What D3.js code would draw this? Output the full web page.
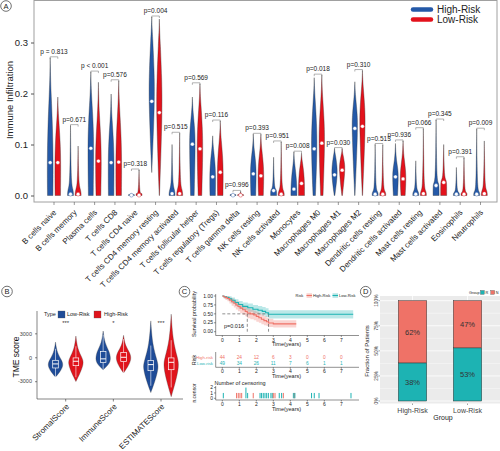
<!DOCTYPE html>
<html><head><meta charset="utf-8">
<script src="https://cdn.jsdelivr.net/npm/d3@7"></script>
<style>body{margin:0;background:#fff} svg{display:block} text{font-family:"Liberation Sans",Arial,sans-serif}</style>
</head><body><svg id="c" width="500" height="451"></svg>
<script>
// ---------- Panel A data ----------
const cellTypes = ["B cells naive","B cells memory","Plasma cells","T cells CD8","T cells CD4 naive","T cells CD4 memory resting","T cells CD4 memory activated","T cells follicular helper","T cells regulatory (Tregs)","T cells gamma delta","NK cells resting","NK cells activated","Monocytes","Macrophages M0","Macrophages M1","Macrophages M2","Dendritic cells resting","Dendritic cells activated","Mast cells resting","Mast cells activated","Eosinophils","Neutrophils"];
const pValues = ["p = 0.813","p=0.671","p < 0.001","p=0.576","p=0.318","p=0.004","p=0.515","p=0.569","p=0.116","p=0.996","p=0.393","p=0.951","p=0.008","p=0.018","p=0.030","p=0.310","p=0.513","p=0.936","p=0.066","p=0.345","p=0.391","p=0.009"];
const highMax = [0.270,0.137,0.242,0.199,0.004,0.350,0.100,0.193,0.117,0.003,0.120,0.075,0.085,0.231,0.092,0.223,0.100,0.102,0.068,0.148,0.055,0.130];
const lowMax  = [0.193,0.097,0.222,0.225,0.050,0.346,0.122,0.219,0.146,0.008,0.120,0.105,0.083,0.236,0.092,0.245,0.099,0.107,0.131,0.100,0.074,0.107];
const highMedian = [0.064,0.002,0.092,0.064,0,0.184,0.003,0.100,0.036,0,0.042,0.009,0.012,0.091,0.040,0.131,0.002,0.036,0.002,0.019,0.002,0.002];
const lowMedian  = [0.064,0.002,0.067,0.065,0,0.162,0.003,0.091,0.045,0,0.038,0.002,0.023,0.102,0.049,0.135,0.002,0.032,0.003,0.025,0.002,0.003];
const highMin = [0,0,0,0,0,0.045,0,0,0,0,0,0,0,0,0,0,0,0,0,0,0,0];
const lowMin  = [0,0,0,0,0,0,0,0,0,0,0,0,0,0,0,0,0,0,0,0,0,0];
const highBody = [0.20,0.022,0.19,0.15,0.002,0.31,0.02,0.16,0.09,0.002,0.09,0.015,0.06,0.19,0.08,0.19,0.012,0.07,0.012,0.03,0.008,0.012];
const lowBody  = [0.15,0.020,0.16,0.17,0.004,0.30,0.02,0.18,0.11,0.002,0.09,0.015,0.065,0.19,0.08,0.21,0.012,0.075,0.015,0.035,0.008,0.016];
const highBase = [0.9,1,0.8,0.9,1,0,1,0.6,0.9,1,0.8,1,1,0.4,0.1,0.05,1,0.7,1,1,1,1];
const lowBase  = [0.9,1,0.8,0.9,1,0.05,1,0.6,0.9,1,0.8,1,1,0.4,0.1,0.05,1,0.7,1,1,1,1];
const yTicksA = [0, 0.1, 0.2, 0.3];

// ---------- Panel B data ----------
const tmeScores = ["StromalScore","ImmuneScore","ESTIMATEScore"];
// [min, q1, median, q3, max]
const tmeLow  = [[-2480,-1340,-835,-380,1900],[-1560,-670,-200,720,3290],[-4430,-1680,-920,-420,4560]];
const tmeHigh = [[-3040,-1050,-500,-80,2660],[-1970,-540,0,590,2750],[-4940,-1560,-630,-80,5400]];
const tmeStars = ["***","*","***"];
const yTicksB = [-3000, 0, 3000];

// ---------- Panel C data ----------
const kmHighTime = [0,0.08,0.18,0.3,0.42,0.55,0.68,0.8,0.92,1.05,1.2,1.35,1.47,1.65,1.85,2.0,2.15,2.3,2.45,2.6,2.72,3.0,4.35];
const kmHighSurv = [1,0.977,0.955,0.93,0.886,0.84,0.795,0.75,0.705,0.66,0.615,0.57,0.525,0.5,0.47,0.43,0.39,0.35,0.31,0.28,0.245,0.22,0.22];
const kmHighUpper = [1,1,1,0.99,0.96,0.93,0.89,0.85,0.81,0.77,0.73,0.69,0.65,0.62,0.59,0.56,0.52,0.48,0.44,0.4,0.36,0.32,0.32];
const kmHighLower = [1,0.93,0.89,0.85,0.79,0.73,0.68,0.62,0.57,0.52,0.47,0.43,0.38,0.35,0.32,0.28,0.25,0.21,0.18,0.16,0.13,0.12,0.12];
const kmLowTime = [0,0.1,0.25,0.4,0.55,0.75,0.95,1.2,1.5,1.8,2.1,2.35,2.55,2.72,7.7];
const kmLowSurv = [1,0.98,0.96,0.92,0.88,0.82,0.76,0.71,0.67,0.63,0.6,0.57,0.53,0.49,0.49];
const kmLowUpper = [1,1,1,0.99,0.96,0.91,0.86,0.82,0.79,0.75,0.72,0.69,0.66,0.6,0.6];
const kmLowLower = [1,0.94,0.91,0.85,0.8,0.73,0.66,0.61,0.56,0.52,0.48,0.45,0.41,0.37,0.37];
const medianTimes = [1.47, 2.72];
const riskTimes = [0,1,2,3,4,5,6,7];
const riskHigh = [44,24,12,6,3,0,0,0];
const riskLow  = [49,34,26,11,7,6,1,1];
const censorTime  = [0.06,0.84,0.94,1.04,1.14,1.39,1.49,1.82,2.22,2.31,2.41,2.51,2.61,2.71,2.86,2.94,3.0,3.1,3.35,3.49,3.59,4.18,4.24,4.27,5.25,5.41,5.69,7.57];
const censorCount = [1,1,1,1,1,2,1,1,1,1,1,1,1,1,1,1,1,1,1,1,1,1,1,1,1,1,1,1];
const censorGroup = ["L","H","H","H","H","L","L","H","L","L","L","L","L","L","L","L","H","H","L","L","H","L","H","L","L","L","L","L"];

// ---------- Panel D data ----------
const riskGroups = ["High-Risk","Low-Risk"];
const fracR = [38, 53];
const fracN = [62, 47];

// ---------- drawing ----------
const svg = d3.select("#c");
const BLUE_A = "#2459a8", RED_A = "#e3121c";
const BLUE_B = "#1f4c98", RED_B = "#e0141c";
const TEAL = "#1db3b3", SALMON = "#ef7267";

function circleLabel(x, y, t) {
  svg.append("circle").attr("cx", x).attr("cy", y).attr("r", 5.3)
    .attr("fill", "#fff").attr("stroke", "#333").attr("stroke-width", 0.7);
  svg.append("text").attr("x", x).attr("y", y + 2.6).attr("text-anchor", "middle")
    .attr("font-size", 7.5).attr("fill", "#222").text(t);
}

// ===== Panel A =====
const aY = d3.scaleLinear().domain([0, 0.3]).range([195.5, 42.5]);
const aX = d3.scalePoint().domain(cellTypes).range([54, 480.5]);
const gA = svg.append("g");
gA.append("rect").attr("x", 34).attr("y", 0.5).attr("width", 463).attr("height", 201.5)
  .attr("fill", "none").attr("stroke", "#a0a0a0").attr("stroke-width", 1);
const axA = gA.append("g").attr("transform", "translate(34,0)")
  .call(d3.axisLeft(aY).tickValues(yTicksA).tickFormat(d3.format(".1f")).tickSize(3));
axA.select(".domain").remove();
axA.selectAll("line").attr("stroke", "#555");
axA.selectAll("text").attr("font-size", 9.5).attr("fill", "#222").attr("font-family", "Liberation Sans, Arial, sans-serif");
gA.append("text").attr("transform", "translate(13,100) rotate(-90)").attr("text-anchor", "middle")
  .attr("font-size", 9.5).attr("fill", "#222").text("Immune Infiltration");

const WA = 3.0, OFF_A = 3.8;
function profA(min, med, body, max, base) {
  const mode = Math.min(Math.max(med, min + 0.004), body);
  return [[min, base], [mode, 1], [mode + (body - mode) * 0.5, 0.8], [body, 0.3], [body + (max - body) * 0.5, 0.1], [max, 0]];
}
function violinPath(pts, cx, W, yS) {
  return d3.area().curve(d3.curveBasis)
    .y(d => yS(d[0])).x0(d => cx - d[1] * W).x1(d => cx + d[1] * W)(pts);
}
cellTypes.forEach((c, i) => {
  const cx = aX(c);
  const groups = [
    {cx: cx - OFF_A, col: BLUE_A, p: profA(highMin[i], highMedian[i], highBody[i], highMax[i], highBase[i]), med: highMedian[i]},
    {cx: cx + OFF_A, col: RED_A, p: profA(lowMin[i], lowMedian[i], lowBody[i], lowMax[i], lowBase[i]), med: lowMedian[i]}
  ];
  groups.forEach(g => {
    gA.append("path").attr("d", violinPath(g.p, g.cx, WA, aY))
      .attr("fill", g.col).attr("stroke", "#2a2a2a").attr("stroke-width", 0.35);
  });
  groups.forEach(g => {
    gA.append("circle").attr("cx", g.cx).attr("cy", aY(g.med) - 0.3).attr("r", 1.9)
      .attr("fill", "#fff").attr("stroke", g.col).attr("stroke-width", 0.4);
  });
  const by = aY(Math.max(highMax[i], lowMax[i])) - 1;
  gA.append("path").attr("d", `M${cx - OFF_A},${by + 2}V${by}H${cx + OFF_A}V${by + 2}`)
    .attr("fill", "none").attr("stroke", "#666").attr("stroke-width", 0.5);
  gA.append("text").attr("x", cx).attr("y", by - 3).attr("text-anchor", "middle")
    .attr("font-size", 6.5).attr("fill", "#222").text(pValues[i]);
  gA.append("line").attr("x1", cx).attr("x2", cx).attr("y1", 202).attr("y2", 205)
    .attr("stroke", "#555").attr("stroke-width", 0.6);
  gA.append("text").attr("transform", `translate(${cx + 3},213) rotate(-45)`)
    .attr("text-anchor", "end").attr("font-size", 8).attr("fill", "#222").text(c);
});
// legend A
[["High-Risk", BLUE_A, 9.5], ["Low-Risk", RED_A, 19.5]].forEach(([t, col, y]) => {
  gA.append("line").attr("x1", 413).attr("x2", 431).attr("y1", y).attr("y2", y)
    .attr("stroke", col).attr("stroke-width", 4.5).attr("stroke-linecap", "round");
  gA.append("text").attr("x", 437).attr("y", y + 3.5).attr("font-size", 10).attr("fill", "#222").text(t);
});
circleLabel(6, 6, "A");

// ===== Panel B =====
const bY = d3.scaleLinear().domain([-5230, 5800]).range([399, 311]);
const bX = d3.scalePoint().domain(tmeScores).range([65.7, 161]);
const gB = svg.append("g");
gB.append("line").attr("x1", 37).attr("x2", 37).attr("y1", 311).attr("y2", 399).attr("stroke", "#333").attr("stroke-width", 0.6);
gB.append("line").attr("x1", 37).attr("x2", 183).attr("y1", 399).attr("y2", 399).attr("stroke", "#333").attr("stroke-width", 0.6);
const axB = gB.append("g").attr("transform", "translate(37,0)")
  .call(d3.axisLeft(bY).tickValues(yTicksB).tickFormat(d => String(d)).tickSize(2));
axB.select(".domain").remove();
axB.selectAll("line").attr("stroke", "#333").attr("stroke-width", 0.6);
axB.selectAll("text").attr("font-size", 5.5).attr("fill", "#444").attr("font-family", "Liberation Sans, Arial, sans-serif");
gB.append("text").attr("transform", "translate(19,357) rotate(-90)").attr("text-anchor", "middle")
  .attr("font-size", 8.5).attr("fill", "#111").text("TME score");
const WB = 8.0, OFF_B = 10.2;
function profB(s) {
  const [mn, q1, md, q3, mx] = s;
  return [[mn, 0], [q1 - (q1 - mn) * 0.5, 0.5], [(q1 + md) / 2, 1], [q3, 0.8], [q3 + (mx - q3) * 0.4, 0.2], [mx, 0]];
}
tmeScores.forEach((c, i) => {
  const cx = bX(c);
  [[cx - OFF_B, BLUE_B, tmeLow[i]], [cx + OFF_B, RED_B, tmeHigh[i]]].forEach(([x, col, s]) => {
    gB.append("path").attr("d", violinPath(profB(s), x, WB, bY))
      .attr("fill", col).attr("stroke", "#333").attr("stroke-width", 0.3);
    const [mn, q1, md, q3, mx] = s;
    const iqr = q3 - q1;
    const wTop = Math.min(mx, q3 + 1.5 * iqr), wBot = Math.max(mn, q1 - 1.5 * iqr);
    gB.append("line").attr("x1", x).attr("x2", x).attr("y1", bY(q3)).attr("y2", bY(wTop)).attr("stroke", "#fff").attr("stroke-width", 0.6);
    gB.append("line").attr("x1", x).attr("x2", x).attr("y1", bY(q1)).attr("y2", bY(wBot)).attr("stroke", "#fff").attr("stroke-width", 0.6);
    gB.append("rect").attr("x", x - 2.8).attr("width", 5.6).attr("y", bY(q3)).attr("height", bY(q1) - bY(q3))
      .attr("fill", col).attr("stroke", "#fff").attr("stroke-width", 0.7);
    gB.append("line").attr("x1", x - 2.8).attr("x2", x + 2.8).attr("y1", bY(md)).attr("y2", bY(md)).attr("stroke", "#fff").attr("stroke-width", 1);
  });
  gB.append("text").attr("x", cx).attr("y", 325).attr("text-anchor", "middle").attr("font-size", 6).attr("fill", "#333").text(tmeStars[i]);
  gB.append("line").attr("x1", cx).attr("x2", cx).attr("y1", 399).attr("y2", 401.5).attr("stroke", "#333").attr("stroke-width", 0.6);
  gB.append("text").attr("transform", `translate(${cx + 4},407) rotate(-45)`)
    .attr("text-anchor", "end").attr("font-size", 8).attr("fill", "#222").text(c);
});
gB.append("text").attr("x", 44).attr("y", 316.3).attr("font-size", 5.5).attr("fill", "#222").text("Type");
[[58, BLUE_B, "Low-Risk", 67], [94, RED_B, "High-Risk", 104]].forEach(([x, col, t, tx]) => {
  gB.append("rect").attr("x", x).attr("y", 311).attr("width", 7).attr("height", 7).attr("fill", col).attr("stroke", "#555").attr("stroke-width", 0.3);
  gB.append("text").attr("x", tx).attr("y", 316.3).attr("font-size", 5.5).attr("fill", "#222").text(t);
});
circleLabel(7, 291.5, "B");

// ===== Panel C =====
const gC = svg.append("g");
const cX = d3.scaleLinear().domain([0, 7]).range([222.3, 341.3]);
const cY = d3.scaleLinear().domain([0, 1]).range([331.7, 296]);
const tickFont = 5;
gC.append("line").attr("x1", 215.7).attr("x2", 215.7).attr("y1", 294).attr("y2", 335.5).attr("stroke", "#222").attr("stroke-width", 0.5);
gC.append("line").attr("x1", 215.7).attr("x2", 359).attr("y1", 335.5).attr("y2", 335.5).attr("stroke", "#222").attr("stroke-width", 0.5);
[0, 0.25, 0.5, 0.75, 1].forEach(v => {
  gC.append("line").attr("x1", 214).attr("x2", 215.7).attr("y1", cY(v)).attr("y2", cY(v)).attr("stroke", "#222").attr("stroke-width", 0.5);
  gC.append("text").attr("x", 213).attr("y", cY(v) + 1.7).attr("text-anchor", "end").attr("font-size", tickFont).attr("fill", "#222").text(v.toFixed(2));
});
function xAxisC(y0) {
  riskTimes.forEach(t => {
    gC.append("line").attr("x1", cX(t)).attr("x2", cX(t)).attr("y1", y0).attr("y2", y0 + 1.5).attr("stroke", "#222").attr("stroke-width", 0.5);
    gC.append("text").attr("x", cX(t)).attr("y", y0 + 6).attr("text-anchor", "middle").attr("font-size", tickFont).attr("fill", "#222").text(t);
  });
  gC.append("text").attr("x", 286.5).attr("y", y0 + 10.5).attr("text-anchor", "middle").attr("font-size", 5.5).attr("fill", "#222").text("Time(years)");
}
xAxisC(335.5);
gC.append("text").attr("transform", "translate(196,314) rotate(-90)").attr("text-anchor", "middle")
  .attr("font-size", 5.5).attr("fill", "#222").text("Survival probability");
function band(times, lo, hi, col) {
  const d = times.map((t, i) => ({t, lo: lo[i], hi: hi[i]}));
  gC.append("path").attr("d", d3.area().curve(d3.curveStepAfter).x(e => cX(e.t)).y0(e => cY(e.lo)).y1(e => cY(e.hi))(d))
    .attr("fill", col).attr("opacity", 0.3);
}
function curve(times, s, col) {
  const d = times.map((t, i) => ({t, s: s[i]}));
  gC.append("path").attr("d", d3.line().curve(d3.curveStepAfter).x(e => cX(e.t)).y(e => cY(e.s))(d))
    .attr("fill", "none").attr("stroke", col).attr("stroke-width", 1.1);
}
band(kmLowTime, kmLowLower, kmLowUpper, TEAL);
band(kmHighTime, kmHighLower, kmHighUpper, SALMON);
gC.append("line").attr("x1", cX(0)).attr("x2", cX(medianTimes[1])).attr("y1", cY(0.5)).attr("y2", cY(0.5))
  .attr("stroke", "#444").attr("stroke-width", 0.6).attr("stroke-dasharray", "3,2");
medianTimes.forEach(t => gC.append("line").attr("x1", cX(t)).attr("x2", cX(t)).attr("y1", cY(0.5)).attr("y2", cY(0))
  .attr("stroke", "#444").attr("stroke-width", 0.6).attr("stroke-dasharray", "3,2"));
curve(kmLowTime, kmLowSurv, TEAL);
curve(kmHighTime, kmHighSurv, SALMON);
gC.append("text").attr("x", 224).attr("y", 327.5).attr("font-size", 5.5).attr("fill", "#222").text("p=0.016");
gC.append("text").attr("x", 295.5).attr("y", 296.8).attr("font-size", 4).attr("fill", "#222").text("Risk");
[[306.5, SALMON, "High-Risk", 313], [332.5, TEAL, "Low-Risk", 339]].forEach(([x, col, t, tx]) => {
  gC.append("rect").attr("x", x).attr("y", 293.3).attr("width", 5.5).attr("height", 4.5).attr("fill", col).attr("opacity", 0.35);
  gC.append("line").attr("x1", x).attr("x2", x + 5.5).attr("y1", 295.5).attr("y2", 295.5).attr("stroke", col).attr("stroke-width", 1);
  gC.append("text").attr("x", tx).attr("y", 296.8).attr("font-size", 4).attr("fill", "#222").text(t);
});
// risk table
gC.append("line").attr("x1", 215.7).attr("x2", 215.7).attr("y1", 352).attr("y2", 367.3).attr("stroke", "#222").attr("stroke-width", 0.5);
gC.append("line").attr("x1", 215.7).attr("x2", 359).attr("y1", 367.3).attr("y2", 367.3).attr("stroke", "#222").attr("stroke-width", 0.5);
[["High-risk", SALMON, 357.7, riskHigh], ["Low-risk", TEAL, 363.3, riskLow]].forEach(([lab, col, y, vals]) => {
  gC.append("text").attr("x", 213).attr("y", y + 1.6).attr("text-anchor", "end").attr("font-size", 4.3).attr("fill", col).text(lab);
  vals.forEach((v, i) => gC.append("text").attr("x", cX(riskTimes[i])).attr("y", y + 1.7).attr("text-anchor", "middle")
    .attr("font-size", 4.8).attr("fill", col).text(v));
});
gC.append("text").attr("transform", "translate(196,360) rotate(-90)").attr("text-anchor", "middle")
  .attr("font-size", 5.5).attr("fill", "#222").text("Risk");
xAxisC(367.3);
// censoring
const nY = d3.scaleLinear().domain([0, 2]).range([398.3, 387.6]);
gC.append("text").attr("x", 214.5).attr("y", 385.3).attr("font-size", 5.5).attr("fill", "#222").text("Number of censoring");
gC.append("line").attr("x1", 215.7).attr("x2", 215.7).attr("y1", 386).attr("y2", 400).attr("stroke", "#222").attr("stroke-width", 0.5);
gC.append("line").attr("x1", 215.7).attr("x2", 359).attr("y1", 400).attr("y2", 400).attr("stroke", "#222").attr("stroke-width", 0.5);
[0, 1, 2].forEach(v => {
  gC.append("line").attr("x1", 214).attr("x2", 215.7).attr("y1", nY(v)).attr("y2", nY(v)).attr("stroke", "#222").attr("stroke-width", 0.5);
  gC.append("text").attr("x", 213).attr("y", nY(v) + 1.7).attr("text-anchor", "end").attr("font-size", tickFont).attr("fill", "#222").text(v);
});
censorTime.forEach((t, i) => {
  gC.append("line").attr("x1", cX(t)).attr("x2", cX(t)).attr("y1", nY(0)).attr("y2", nY(censorCount[i]))
    .attr("stroke", censorGroup[i] === "H" ? SALMON : TEAL).attr("stroke-width", 1);
});
gC.append("text").attr("transform", "translate(196,393) rotate(-90)").attr("text-anchor", "middle")
  .attr("font-size", 5).attr("fill", "#222").text("n.censor");
xAxisC(400);
circleLabel(184.5, 291.7, "C");

// ===== Panel D =====
const gD = svg.append("g");
const dY = d3.scaleLinear().domain([0, 100]).range([401, 300.7]);
const dXp = d3.scalePoint().domain(riskGroups).range([412.5, 467.5]);
gD.append("rect").attr("x", 380).attr("y", 296).attr("width", 120).attr("height", 107.5).attr("fill", "#ebebeb");
[12.5, 37.5, 62.5, 87.5].forEach(v => gD.append("line").attr("x1", 380).attr("x2", 500).attr("y1", dY(v)).attr("y2", dY(v)).attr("stroke", "#fff").attr("stroke-width", 0.4));
[0, 25, 50, 75, 100].forEach(v => gD.append("line").attr("x1", 380).attr("x2", 500).attr("y1", dY(v)).attr("y2", dY(v)).attr("stroke", "#fff").attr("stroke-width", 0.8));
riskGroups.forEach(g => gD.append("line").attr("x1", dXp(g)).attr("x2", dXp(g)).attr("y1", 296).attr("y2", 403.5).attr("stroke", "#fff").attr("stroke-width", 0.8));
[0, 25, 50, 75, 100].forEach(v => {
  gD.append("line").attr("x1", 378.5).attr("x2", 380).attr("y1", dY(v)).attr("y2", dY(v)).attr("stroke", "#444").attr("stroke-width", 0.5);
  gD.append("text").attr("transform", `translate(377.5,${dY(v)}) rotate(-90)`).attr("text-anchor", "middle")
    .attr("font-size", 4.8).attr("fill", "#444").text(v + "%");
});
gD.append("text").attr("transform", "translate(369,351) rotate(-90)").attr("text-anchor", "middle")
  .attr("font-size", 6).attr("fill", "#222").text("Fraction of Patients");
const BW = 28.4;
riskGroups.forEach((g, i) => {
  const cx = dXp(g);
  gD.append("rect").attr("x", cx - BW / 2).attr("width", BW).attr("y", dY(fracR[i])).attr("height", dY(0) - dY(fracR[i]))
    .attr("fill", TEAL).attr("stroke", "#333").attr("stroke-width", 0.5);
  gD.append("rect").attr("x", cx - BW / 2).attr("width", BW).attr("y", dY(100)).attr("height", dY(fracR[i]) - dY(100))
    .attr("fill", SALMON).attr("stroke", "#333").attr("stroke-width", 0.5);
  gD.append("text").attr("x", cx).attr("y", dY(fracR[i] / 2) + 2.8).attr("text-anchor", "middle").attr("font-size", 7.5).attr("fill", "#333").text(fracR[i] + "%");
  gD.append("text").attr("x", cx).attr("y", dY(fracR[i] + fracN[i] / 2) + 2.8).attr("text-anchor", "middle").attr("font-size", 7.5).attr("fill", "#333").text(fracN[i] + "%");
  gD.append("line").attr("x1", cx).attr("x2", cx).attr("y1", 403.5).attr("y2", 405).attr("stroke", "#444").attr("stroke-width", 0.5);
  gD.append("text").attr("x", cx).attr("y", 413).attr("text-anchor", "middle").attr("font-size", 7).attr("fill", "#444").text(g);
});
gD.append("text").attr("x", 443).attr("y", 420).attr("text-anchor", "middle").attr("font-size", 7).attr("fill", "#222").text("Group");
gD.append("text").attr("x", 469).attr("y", 293.8).attr("font-size", 3.8).attr("fill", "#222").text("Group");
[[480.5, TEAL, "R", 485.5], [490.8, SALMON, "N", 495.8]].forEach(([x, col, t, tx]) => {
  gD.append("rect").attr("x", x).attr("y", 290.5).attr("width", 3.8).attr("height", 3.8).attr("fill", col).attr("stroke", "#333").attr("stroke-width", 0.3);
  gD.append("text").attr("x", tx).attr("y", 293.8).attr("font-size", 3.8).attr("fill", "#222").text(t);
});
circleLabel(365.7, 291.7, "D");
</script></body></html>
